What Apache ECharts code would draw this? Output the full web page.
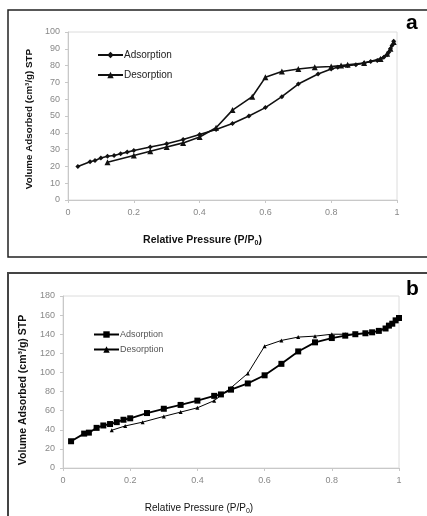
<!DOCTYPE html>
<html><head><meta charset="utf-8">
<script src="https://cdn.jsdelivr.net/npm/echarts@6/dist/echarts.min.js"></script>
<style>html,body{margin:0;padding:0;background:#fff}#c{width:427px;height:516px}</style>
</head><body><div id="c"></div>
<script>
// Panel a
const aAdsP = [0.03,0.067,0.082,0.10,0.12,0.14,0.16,0.18,0.20,0.25,0.30,0.35,0.40,0.45,0.50,0.55,0.60,0.65,0.70,0.76,0.80,0.82,0.85,0.875,0.90,0.92,0.94,0.95,0.96,0.97,0.975,0.98,0.985,0.99];
const aAdsV = [20,22.8,23.5,25,26,26.5,27.5,28.5,29.5,31.5,33.5,36,39,42,45.5,50,55,61.5,69,75,78,79,80,80.5,81.5,82.5,83,84,85,86.5,88,90,92,94.5];
const aDesP = [0.99,0.98,0.97,0.95,0.90,0.85,0.83,0.80,0.75,0.70,0.65,0.60,0.56,0.50,0.45,0.40,0.35,0.30,0.25,0.20,0.12];
const aDesV = [94,90,87,84,81.5,80.5,80,79.5,79,78,76.5,73,61.5,53.5,43,37.5,34,31.5,29,26.5,22.5];
// Panel b
const bAdsP = [0.024,0.063,0.077,0.10,0.12,0.14,0.16,0.18,0.20,0.25,0.30,0.35,0.40,0.45,0.47,0.50,0.55,0.60,0.65,0.70,0.75,0.80,0.84,0.87,0.90,0.92,0.94,0.96,0.97,0.98,0.99,1.0];
const bAdsV = [28,36,37,42,44.5,46,48,50.5,52,57.5,62,66,70.5,75.5,77,82,88.5,97,109,122,131.5,136,138.5,140,141,142,143.5,146,149,151,154.5,157];
const bDesP = [1.0,0.99,0.97,0.94,0.90,0.87,0.84,0.80,0.75,0.70,0.65,0.60,0.55,0.50,0.45,0.40,0.35,0.30,0.237,0.185,0.145];
const bDesV = [157,154,149,143.5,141,140,140,140,138,137,133.5,127.5,99,84,70.5,63,58.5,54,48,44,39.5];

const xTicks = ['0','0.2','0.4','0.6','0.8','1'];

function zip(p,v){return p.map((x,i)=>[x,v[i]]);}
const chart = echarts.init(document.getElementById('c'));
const FONT = 'Liberation Sans, Arial, sans-serif';
function xAx(idx, bold, fs, padR){
  return {gridIndex:idx,type:'value',min:0,max:1,interval:0.2,
    axisLine:{lineStyle:{color:'#c8c8c8'}},axisTick:{length:3,lineStyle:{color:'#c8c8c8'}},
    splitLine:{show:false},
    axisLabel:{color:'#888',fontSize:9,fontFamily:FONT,margin:8,formatter:v=>xTicks[Math.round(v*5)]},
    name:'Relative Pressure (P/P{s|0})',nameLocation:'middle',nameGap:34,
    nameTextStyle:{color:'#111',fontSize:fs,fontWeight:bold?'bold':'normal',fontFamily:FONT,padding:[0,padR,0,0],
      rich:{s:{fontSize:7,fontWeight:bold?'bold':'normal',padding:[6,0,0,0],fontFamily:FONT,color:'#111'}}}};
}
function yAx(idx,max,interval,fs,gap,padR){
  return {gridIndex:idx,type:'value',min:0,max:max,interval:interval,
    axisLine:{show:true,lineStyle:{color:'#c8c8c8'}},axisTick:{show:true,length:3,lineStyle:{color:'#c8c8c8'}},
    splitLine:{show:false},
    axisLabel:{color:'#888',fontSize:9,fontFamily:FONT,margin:8},
    name:'Volume Adsorbed (cm³/g) STP',nameLocation:'middle',nameGap:gap,
    nameTextStyle:{color:'#111',fontSize:fs,fontWeight:'bold',fontFamily:FONT,padding:[0,padR,0,0]}};
}
chart.setOption({
  animation:false,
  backgroundColor:'#fff',
  grid:[
    {left:68,top:32,width:329,height:168,show:true,borderColor:'#dcdcdc',borderWidth:1},
    {left:63,top:296,width:336,height:174,show:true,borderColor:'#dcdcdc',borderWidth:1}
  ],
  xAxis:[xAx(0,true,10.5,60),xAx(1,false,10,64)],
  yAxis:[yAx(0,100,10,9.8,34,6),yAx(1,180,20,10.5,32,16)],
  legend:[
    {left:97,top:50,padding:0,orient:'vertical',itemWidth:25,itemHeight:8,itemGap:10,
     data:['a-Adsorption','a-Desorption'],formatter:n=>n.slice(2),
     textStyle:{fontSize:10,fontFamily:FONT,color:'#222',padding:[0,0,0,-4]}},
    {left:93,top:330,padding:0,orient:'vertical',itemWidth:25,itemHeight:8,itemGap:6,
     data:['b-Adsorption','b-Desorption'],formatter:n=>n.slice(2),
     textStyle:{fontSize:9,fontFamily:FONT,color:'#555',padding:[0,0,0,-4]}}
  ],
  series:[
    {name:'a-Adsorption',type:'line',xAxisIndex:0,yAxisIndex:0,data:zip(aAdsP,aAdsV),
     symbol:'diamond',symbolSize:5,lineStyle:{color:'#111',width:1.6},itemStyle:{color:'#111'}},
    {name:'a-Desorption',type:'line',xAxisIndex:0,yAxisIndex:0,data:zip(aDesP,aDesV),
     symbol:'triangle',symbolSize:6,lineStyle:{color:'#111',width:1.6},itemStyle:{color:'#111'}},
    {name:'b-Adsorption',type:'line',xAxisIndex:1,yAxisIndex:1,data:zip(bAdsP,bAdsV),
     symbol:'rect',symbolSize:6,lineStyle:{color:'#000',width:1.8},itemStyle:{color:'#000'}},
    {name:'b-Desorption',type:'line',xAxisIndex:1,yAxisIndex:1,data:zip(bDesP,bDesV),
     symbol:'triangle',symbolSize:4,lineStyle:{color:'#000',width:1},itemStyle:{color:'#000'}}
  ],
  graphic:[
    {type:'rect',shape:{x:8,y:10,width:430,height:247},style:{fill:null,stroke:'#222',lineWidth:1.5},z:-1},
    {type:'rect',shape:{x:8,y:273,width:430,height:260},style:{fill:null,stroke:'#444',lineWidth:2},z:-1},
    {type:'text',left:406,top:13,style:{text:'a',font:'bold 21px Liberation Sans, Arial, sans-serif',fill:'#000'}},
    {type:'text',left:406,top:279,style:{text:'b',font:'bold 21px Liberation Sans, Arial, sans-serif',fill:'#000'}}
  ]
});
</script></body></html>
